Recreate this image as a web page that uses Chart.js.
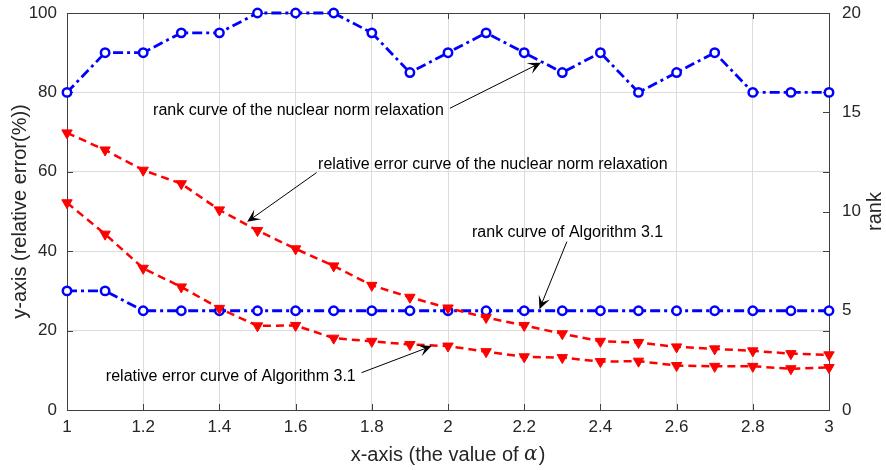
<!DOCTYPE html>
<html>
<head>
<meta charset="utf-8">
<script src="https://cdn.jsdelivr.net/npm/chart.js@4.4.1/dist/chart.umd.min.js"></script>
<style>
    html, body { margin: 0; padding: 0; background: #fff; }
    #wrap { width: 886px; height: 470px; }
</style>
</head>
<body>
<div id="wrap"><canvas id="err-chart" width="886" height="470"></canvas></div>
<script>
// values of alpha on the x axis
const ALPHA = [1, 1.1, 1.2, 1.3, 1.4, 1.5, 1.6, 1.7, 1.8, 1.9, 2, 2.1, 2.2, 2.3, 2.4, 2.5, 2.6, 2.7, 2.8, 2.9, 3];

// relative error (%) - left axis
const errNuclear = [69.8, 65.5, 60.4, 57.0, 50.4, 45.2, 40.6, 36.3, 31.4, 28.4, 25.7, 23.3, 21.3, 19.2, 17.3, 17.0, 15.9, 15.4, 14.9, 14.2, 13.9];
const errAlg31 = [52.2, 44.3, 35.7, 31.0, 25.6, 21.2, 21.3, 18.1, 17.3, 16.5, 16.1, 14.7, 13.4, 13.2, 12.2, 12.3, 11.2, 11.0, 11.0, 10.4, 10.7];

// rank - right axis
const rankNuclear = [16, 18, 18, 19, 19, 20, 20, 20, 19, 17, 18, 19, 18, 17, 18, 16, 17, 18, 16, 16, 16];
const rankAlg31 = [6, 6, 5, 5, 5, 5, 5, 5, 5, 5, 5, 5, 5, 5, 5, 5, 5, 5, 5, 5, 5];

// tick settings
const xTicks = { min: 1, max: 3, step: 0.2 };
const yTicks = { min: 0, max: 100, step: 20 };
const rankTicks = { min: 0, max: 20, step: 5 };

// text arrows, in data units (x, left axis value)
const notes = [
    { text: "rank curve of the nuclear norm relaxation", tx: 1.226, ty: 75.4, from: [2.005, 76.0], to: [2.244, 87.5] },
    { text: "relative error curve of the nuclear norm relaxation", tx: 1.659, ty: 61.9, from: [1.655, 59.8], to: [1.473, 47.4] },
    { text: "rank curve of Algorithm 3.1", tx: 2.063, ty: 44.6, from: [2.312, 42.4], to: [2.240, 25.4] },
    { text: "relative error curve of Algorithm 3.1", tx: 1.102, ty: 8.4, from: [1.773, 9.4], to: [1.957, 16.1] }
];

const pts = (ys) => ys.map((y, i) => ({ x: ALPHA[i], y: y }));

const AXIS = "#404040";
const FONT = "'Liberation Sans', Arial, Helvetica, sans-serif";

// box, inward tick marks, titles and arrows
const matlabLook = {
    id: "matlabLook",
    beforeDatasetsDraw(chart) {
        const ctx = chart.ctx;
        const a = chart.chartArea;
        const x = chart.scales.x, y = chart.scales.y, y1 = chart.scales.y1;
        const tl = 6;
        ctx.save();
        ctx.strokeStyle = AXIS;
        ctx.lineWidth = 1;
        ctx.beginPath();
        x.ticks.forEach(t => {
            const px = Math.round(x.getPixelForValue(t.value)) + 0.5;
            ctx.moveTo(px, a.bottom); ctx.lineTo(px, a.bottom - tl);
            ctx.moveTo(px, a.top); ctx.lineTo(px, a.top + tl);
        });
        y.ticks.forEach(t => {
            const py = Math.round(y.getPixelForValue(t.value)) + 0.5;
            ctx.moveTo(a.left, py); ctx.lineTo(a.left + tl, py);
            ctx.moveTo(a.right, py); ctx.lineTo(a.right - tl, py);
        });
        y1.ticks.forEach(t => {
            const py = Math.round(y1.getPixelForValue(t.value)) + 0.5;
            ctx.moveTo(a.right, py); ctx.lineTo(a.right - tl, py);
        });
        ctx.stroke();
        ctx.strokeRect(Math.round(a.left) + 0.5, Math.round(a.top) + 0.5, Math.round(a.right - a.left), Math.round(a.bottom - a.top));
        ctx.restore();
    },
    afterDraw(chart) {
        const ctx = chart.ctx;
        const a = chart.chartArea;
        const x = chart.scales.x, y = chart.scales.y;
        ctx.save();
        ctx.fillStyle = "#000";
        ctx.strokeStyle = "#000";

        // annotations
        notes.forEach(n => {
            ctx.font = "16px " + FONT;
            ctx.textAlign = "left";
            ctx.textBaseline = "middle";
            ctx.fillText(n.text, x.getPixelForValue(n.tx), y.getPixelForValue(n.ty));
            const x0 = x.getPixelForValue(n.from[0]), y0 = y.getPixelForValue(n.from[1]);
            const x1 = x.getPixelForValue(n.to[0]), y1 = y.getPixelForValue(n.to[1]);
            const ang = Math.atan2(y1 - y0, x1 - x0);
            const L = 13, W = 6;
            ctx.lineWidth = 1;
            ctx.beginPath();
            ctx.moveTo(x0, y0);
            ctx.lineTo(x1 - Math.cos(ang) * 6, y1 - Math.sin(ang) * 6);
            ctx.stroke();
            // notched arrow head
            const bx = x1 - Math.cos(ang) * L, by = y1 - Math.sin(ang) * L;
            const nx = x1 - Math.cos(ang) * L * 0.55, ny = y1 - Math.sin(ang) * L * 0.55;
            ctx.beginPath();
            ctx.moveTo(x1, y1);
            ctx.lineTo(bx + Math.sin(ang) * W, by - Math.cos(ang) * W);
            ctx.lineTo(nx, ny);
            ctx.lineTo(bx - Math.sin(ang) * W, by + Math.cos(ang) * W);
            ctx.closePath();
            ctx.fill();
        });

        // x axis title with italic alpha
        ctx.fillStyle = "#262626";
        ctx.textBaseline = "middle";
        ctx.textAlign = "left";
        const f1 = "20px " + FONT, f2 = "italic 20px 'DejaVu Serif', serif";
        const s1 = "x-axis (the value of ", s2 = "\u03b1", s3 = ")";
        ctx.font = f1; const w1 = ctx.measureText(s1).width, w3 = ctx.measureText(s3).width;
        ctx.font = f2; const w2 = ctx.measureText(s2).width + 1;
        let cx = (a.left + a.right) / 2 - (w1 + w2 + w3) / 2;
        const cy = 455;
        ctx.font = f1; ctx.fillText(s1, cx, cy); cx += w1;
        ctx.font = f2; ctx.fillText(s2, cx, cy); cx += w2;
        ctx.font = f1; ctx.fillText(s3, cx, cy);

        // right axis title
        ctx.translate(875, (a.top + a.bottom) / 2);
        ctx.rotate(-Math.PI / 2);
        ctx.textAlign = "center";
        ctx.font = "20px " + FONT;
        ctx.fillText("rank", 0, 0);
        ctx.restore();
    }
};

new Chart(document.getElementById("err-chart"), {
    type: "line",
    data: {
        datasets: [{
            label: "relative error curve of the nuclear norm relaxation",
            data: pts(errNuclear),
            yAxisID: "y",
            borderColor: "#ff0000",
            backgroundColor: "#ff0000",
            borderWidth: 2.5,
            borderDash: [8, 5],
            pointStyle: "triangle",
            rotation: 180,
            pointRadius: 6,
            pointBorderWidth: 1,
            clip: false
        }, {
            label: "relative error curve of Algorithm 3.1",
            data: pts(errAlg31),
            yAxisID: "y",
            borderColor: "#ff0000",
            backgroundColor: "#ff0000",
            borderWidth: 2.5,
            borderDash: [8, 5],
            pointStyle: "triangle",
            rotation: 180,
            pointRadius: 6,
            pointBorderWidth: 1,
            clip: false
        }, {
            label: "rank curve of the nuclear norm relaxation",
            data: pts(rankNuclear),
            yAxisID: "y1",
            borderColor: "#0000ff",
            backgroundColor: "#ffffff",
            borderWidth: 2.8,
            borderDash: [10, 4, 3, 4],
            pointStyle: "circle",
            pointRadius: 4.2,
            pointBorderWidth: 2.5,
            clip: false
        }, {
            label: "rank curve of Algorithm 3.1",
            data: pts(rankAlg31),
            yAxisID: "y1",
            borderColor: "#0000ff",
            backgroundColor: "#ffffff",
            borderWidth: 2.8,
            borderDash: [10, 4, 3, 4],
            pointStyle: "circle",
            pointRadius: 4.2,
            pointBorderWidth: 2.5,
            clip: false
        }]
    },
    options: {
        responsive: false,
        animation: false,
        layout: { padding: { top: 13, left: 0, right: 0, bottom: 0 } },
        plugins: {
            legend: { display: false },
            tooltip: { enabled: false }
        },
        scales: {
            x: {
                type: "linear",
                min: xTicks.min,
                max: xTicks.max,
                afterFit: (s) => { s.height = 60; s.paddingLeft = 0; s.paddingRight = 0; },
                grid: { color: "#dcdcdc", drawTicks: false },
                border: { display: false },
                ticks: {
                    stepSize: xTicks.step,
                    padding: 7,
                    color: "#262626",
                    font: { family: FONT, size: 17 },
                    maxRotation: 0,
                    callback: (v) => Number(v.toFixed(1)).toString()
                }
            },
            y: {
                position: "left",
                min: yTicks.min,
                max: yTicks.max,
                afterFit: (s) => { s.width = 67; s.paddingTop = 0; s.paddingBottom = 0; },
                grid: { color: "#dcdcdc", drawTicks: false },
                border: { display: false },
                ticks: {
                    stepSize: yTicks.step,
                    padding: 10,
                    color: "#262626",
                    font: { family: FONT, size: 17 }
                },
                title: {
                    display: true,
                    text: "y-axis (relative error(%))",
                    color: "#262626",
                    font: { family: FONT, size: 20 },
                    padding: { top: 8, bottom: 0 }
                }
            },
            y1: {
                position: "right",
                min: rankTicks.min,
                max: rankTicks.max,
                afterFit: (s) => { s.width = 57; s.paddingTop = 0; s.paddingBottom = 0; },
                grid: { display: false, drawTicks: false },
                border: { display: false },
                ticks: {
                    stepSize: rankTicks.step,
                    padding: 13,
                    color: "#262626",
                    font: { family: FONT, size: 17 }
                }
            }
        }
    },
    plugins: [matlabLook]
});
</script>
</body>
</html>
